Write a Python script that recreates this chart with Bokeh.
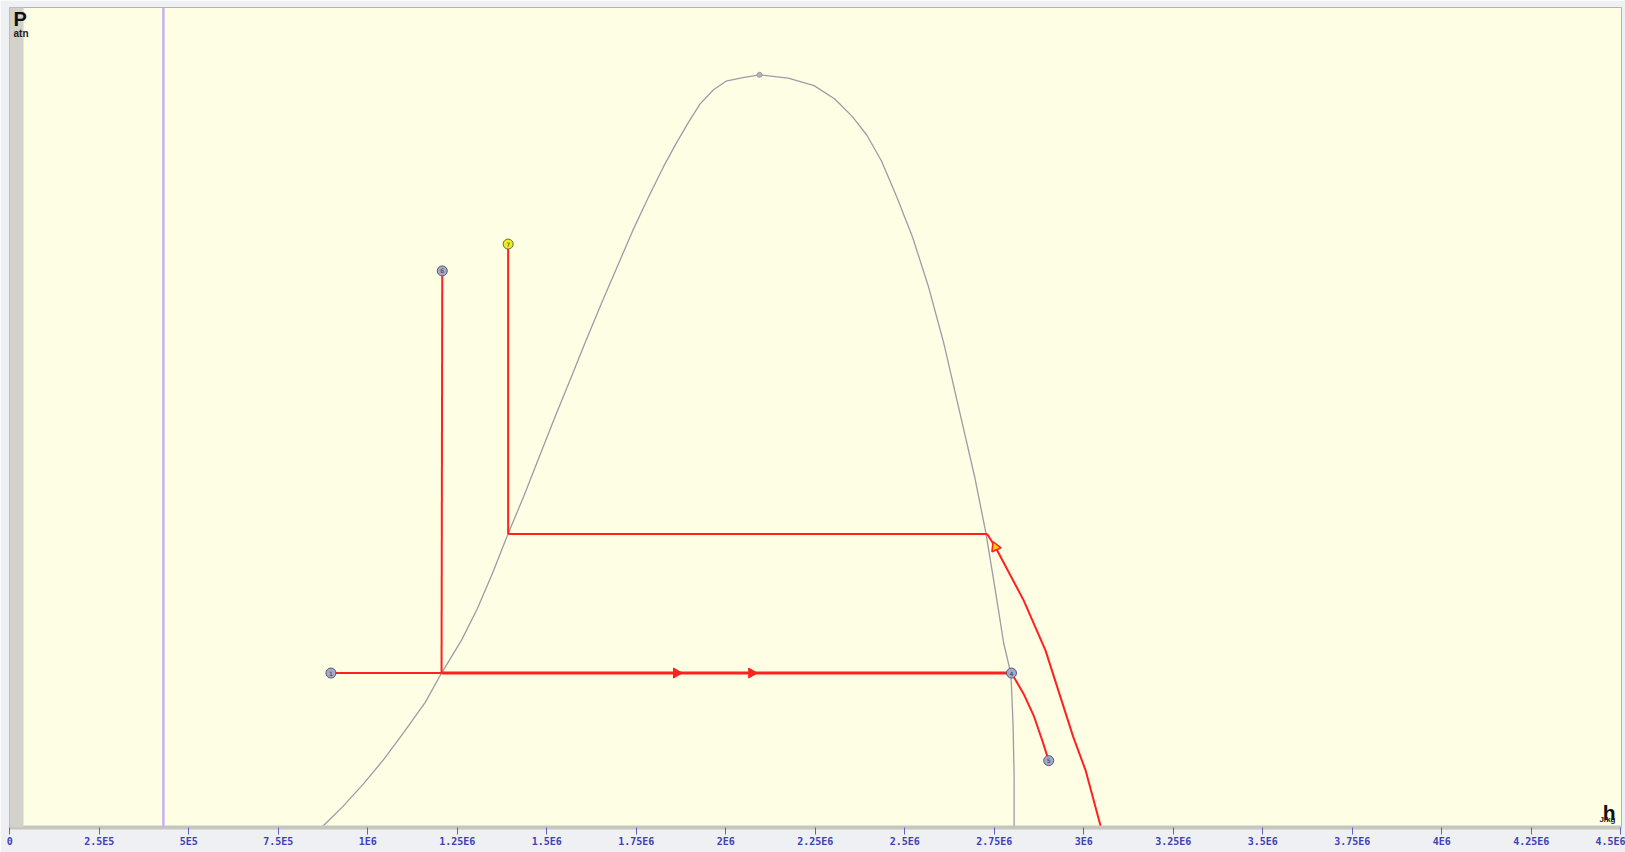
import math
from bokeh.plotting import figure
from bokeh.models import Range1d, FixedTicker, BoxAnnotation, Span, Label, ColumnDataSource
from bokeh.embed import file_html
from bokeh.resources import INLINE
from bokeh.core.properties import value

# ---------------- data (h in J/kg, P in atm) ----------------
# saturation dome: liquid side (bottom -> critical point) then vapour side
dome_h = [0.8707e6, 0.9293e6, 0.9872e6, 1.0452e6, 1.1031e6, 1.1609e6, 1.2060e6, 1.2623e6,
          1.3056e6, 1.3492e6, 1.3916e6, 1.4360e6, 1.4793e6, 1.5229e6, 1.5662e6, 1.6098e6,
          1.6531e6, 1.6967e6, 1.7400e6, 1.7835e6, 1.8268e6, 1.8614e6, 1.8964e6, 1.9282e6,
          1.9657e6, 2.0006e6, 2.0439e6, 2.0941e6,
          2.1743e6, 2.2466e6, 2.3045e6, 2.3536e6, 2.3941e6, 2.4349e6, 2.4782e6, 2.5215e6,
          2.5651e6, 2.6084e6, 2.6519e6, 2.6953e6, 2.7271e6, 2.7532e6, 2.7763e6, 2.7966e6,
          2.8025e6, 2.8054e6, 2.8054e6]
dome_p = [16.16, 21.7, 27.8, 34.5, 42.0, 49.8, 57.6, 66.5,
          74.8, 84.6, 94.9, 105.1, 115.7, 126.3, 136.5, 146.9,
          156.9, 166.6, 176.3, 185.2, 193.6, 199.7, 205.5, 210.3,
          214.1, 216.4, 217.3, 218.1,
          217.2, 215.2, 211.6, 206.9, 201.9, 195.0, 185.2, 174.6,
          161.6, 146.3, 128.2, 110.2, 94.9, 79.6, 65.6, 57.3,
          43.4, 29.5, 16.2]
critical_h = [2.0941e6]
critical_p = [218.1]

# low-pressure isobar (point 1 -> junction -> point 4)
low_p = 57.6
iso_low_h_start = 0.897e6
iso_low_h_junction = 1.206e6
iso_low_h_end = 2.798e6
# vertical line from junction up to point 6
p6_h, p6_p = 1.208e6, 165.5
# high-pressure isobar and vertical up to point 7
high_p = 94.9
iso_high_h_start = 1.392e6
iso_high_h_end = 2.730e6
p7_h, p7_p = 1.392e6, 172.7
# expansion curve from the upper isobar end down past the bottom
exp_h = [2.730e6, 2.753e6, 2.832e6, 2.893e6, 2.970e6, 3.005e6, 3.048e6]
exp_p = [94.9, 91.4, 77.1, 63.7, 40.6, 31.5, 16.16]
# curve from point 4 to point 5
c45_h = [2.798e6, 2.832e6, 2.860e6, 2.884e6, 2.902e6]
c45_p = [57.6, 52.0, 46.2, 39.5, 34.1]

# state points
pt_names = ["1", "4", "5", "6"]
pt_h = [0.897e6, 2.798e6, 2.902e6, 1.208e6]
pt_p = [57.6, 57.6, 34.1, 165.5]
yellow_names = ["7"]
yellow_h = [1.392e6]
yellow_p = [172.7]
tri_h = [2.753e6]
tri_p = [91.4]
arrow_h = [1.862e6, 2.072e6]
arrow_p = [57.6, 57.6]

purple_h = 4.29e5

tick_values = [0, 2.5e5, 5e5, 7.5e5, 1e6, 1.25e6, 1.5e6, 1.75e6, 2e6, 2.25e6, 2.5e6,
               2.75e6, 3e6, 3.25e6, 3.5e6, 3.75e6, 4e6, 4.25e6, 4.5e6]
tick_labels = ["0", "2.5E5", "5E5", "7.5E5", "1E6", "1.25E6", "1.5E6", "1.75E6", "2E6",
               "2.25E6", "2.5E6", "2.75E6", "3E6", "3.25E6", "3.5E6", "3.75E6", "4E6",
               "4.25E6", "4.5E6"]

# ---------------- figure ----------------
FL, FT = 9, 7            # frame left / top on the page
FW, FH = 1612, 820
X0, X1 = -838, 4501955
Y0, Y1 = 16.163, 236.17


def hx(px):  # page x -> data h
    return X0 + (px - FL) * (X1 - X0) / FW


def py(pyv):  # page y -> data P
    return Y1 - (pyv - FT) * (Y1 - Y0) / FH


p = figure(frame_width=FW, frame_height=FH, x_range=Range1d(X0, X1), y_range=Range1d(Y0, Y1),
           output_backend="svg", toolbar_location=None, y_axis_location=None,
           min_border_left=FL, min_border_right=4, min_border_top=FT, min_border_bottom=25,
           background_fill_color="#fefee4", border_fill_color="#eef0f4",
           outline_line_color="#b4b4b4", outline_line_width=1)
p.grid.visible = False

ax = p.xaxis[0]
ax.ticker = FixedTicker(ticks=tick_values)
ax.major_label_overrides = {v: s for v, s in zip(tick_values, tick_labels)}
ax.axis_line_color = "#c6c6be"
ax.axis_line_width = 4
ax.major_tick_in = 0
ax.major_tick_out = 7
ax.major_tick_line_color = "#6060c8"
ax.minor_tick_line_color = None
ax.major_label_standoff = 1
ax.major_label_text_font = "DejaVu Sans Mono"
ax.major_label_text_font_size = "10px"
ax.major_label_text_font_style = "bold"
ax.major_label_text_color = "#4040b4"

# left gray strip
p.add_layout(BoxAnnotation(right=hx(23), fill_color="#d2d2ca", fill_alpha=1.0, line_color=None))
# purple vertical line
p.add_layout(Span(location=purple_h, dimension="height", line_color="#c8b0f4", line_width=2.5))

# dome
p.line(dome_h, dome_p, line_color="#9c9ca6", line_width=1.3)
p.scatter(critical_h, critical_p, size=5, marker="circle", fill_color="#b4b4bc", line_color="#9c9ca6")

red = "#ff2020"
p.line([iso_low_h_start, iso_low_h_junction], [low_p, low_p], line_color=red, line_width=2)
p.line([iso_low_h_junction, iso_low_h_end], [low_p, low_p], line_color=red, line_width=3)
p.line([iso_low_h_junction, p6_h], [low_p, p6_p], line_color=red, line_width=2)
p.line([iso_high_h_start, iso_high_h_end], [high_p, high_p], line_color=red, line_width=2)
p.line([iso_high_h_start, p7_h], [high_p, p7_p], line_color=red, line_width=2)
p.line(exp_h, exp_p, line_color=red, line_width=2)
p.line(c45_h, c45_p, line_color=red, line_width=2)

p.scatter(arrow_h, arrow_p, marker="triangle", size=10, angle=-math.pi / 2,
          fill_color=red, line_color=red)
p.scatter(tri_h, tri_p, marker="triangle", size=10, angle=0.4,
          fill_color="#ffd000", line_color=red, line_width=1.5)

src = ColumnDataSource(dict(h=pt_h, p=pt_p, n=pt_names))
p.scatter("h", "p", source=src, size=10, marker="circle", fill_color="#a6aac6",
          line_color="#56587a", line_width=1)
p.text("h", "p", text="n", source=src, text_font_size="6px", text_align="center",
       text_baseline="middle", text_color="#303050", text_font=value("DejaVu Sans"))
ysrc = ColumnDataSource(dict(h=yellow_h, p=yellow_p, n=yellow_names))
p.scatter("h", "p", source=ysrc, size=10, marker="circle", fill_color="#ecec28",
          line_color="#6c6c30", line_width=1)
p.text("h", "p", text="n", source=ysrc, text_font_size="6px", text_align="center",
       text_baseline="middle", text_color="#404010", text_font=value("DejaVu Sans"))

# axis captions
p.add_layout(Label(x=hx(13), y=py(7), text="P", text_font="Liberation Sans", text_font_size="20px",
                   text_font_style="bold", text_color="#101010", text_align="left", text_baseline="top"))
p.add_layout(Label(x=hx(13), y=py(27), text="atn", text_font="Liberation Sans", text_font_size="10px",
                   text_font_style="bold", text_color="#202020", text_align="left", text_baseline="top"))
p.add_layout(Label(x=hx(1615), y=py(812), text="h", text_font="Liberation Sans", text_font_size="21px",
                   text_font_style="bold", text_color="#101010", text_align="right",
                   text_baseline="alphabetic"))
p.add_layout(Label(x=hx(1615), y=py(814), text="J/kg", text_font="Liberation Sans", text_font_size="8px",
                   text_font_style="bold", text_color="#202020", text_align="right", text_baseline="top"))

open("out.html", "w").write(file_html(p, INLINE))
